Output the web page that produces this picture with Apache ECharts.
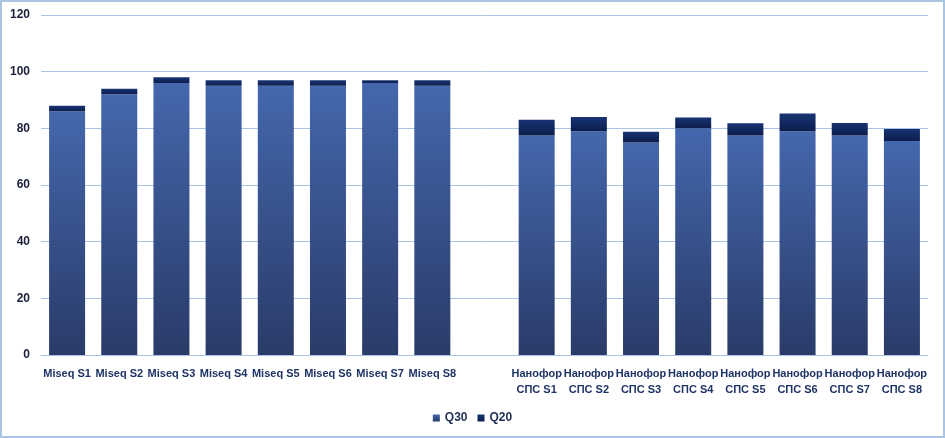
<!DOCTYPE html>
<html>
<head>
    <meta charset="utf-8">
    <title>Q30 / Q20</title>
    <script src="https://cdn.jsdelivr.net/npm/echarts@6/dist/echarts.min.js"></script>
    <style>
        html, body { margin: 0; padding: 0; background: #fff; }
        #charts { width: 945px; height: 438px; box-sizing: border-box; border: 2px solid #a9c4e2; }
    </style>
</head>
<body>
<div id="charts"></div>
<script>
    // 类目（中间空一格）
    var categories = [
        'Miseq S1', 'Miseq S2', 'Miseq S3', 'Miseq S4', 'Miseq S5', 'Miseq S6', 'Miseq S7', 'Miseq S8',
        '',
        'Нанофор\nСПС S1', 'Нанофор\nСПС S2', 'Нанофор\nСПС S3', 'Нанофор\nСПС S4',
        'Нанофор\nСПС S5', 'Нанофор\nСПС S6', 'Нанофор\nСПС S7', 'Нанофор\nСПС S8'
    ];
    var q30 = [86, 92, 96, 95, 95, 95, 96, 95, '-', 77.5, 79, 75, 80, 77.5, 79, 77.5, 75.5];
    var q20 = [2, 2, 2, 2, 2, 2, 1, 2, '-', 5.5, 5, 3.8, 3.8, 4.3, 6.2, 4.4, 4.3];
    var yTicks = [0, 20, 40, 60, 80, 100, 120];

    var myChart = echarts.init(document.getElementById('charts'));

    var option = {
        animation: false,
        grid: { left: 39, right: 15, top: 13, bottom: 81 },
        legend: {
            bottom: 7,
            left: 'center',
            itemWidth: 7,
            itemHeight: 7,
            itemGap: 10,
            icon: 'rect',
            textStyle: { color: '#1f2d55', fontSize: 12, fontWeight: 'bold', fontFamily: 'Liberation Sans' },
            data: ['Q30', 'Q20']
        },
        xAxis: {
            type: 'category',
            data: categories,
            axisLine: { lineStyle: { color: '#a9c4e2' } },
            axisTick: { show: false },
            axisLabel: {
                interval: 0,
                color: '#1f3466',
                fontSize: 11,
                fontWeight: 'bold',
                fontFamily: 'Liberation Sans',
                lineHeight: 16,
                margin: 11
            }
        },
        yAxis: {
            type: 'value',
            min: yTicks[0],
            max: yTicks[yTicks.length - 1],
            interval: 20,
            axisLine: { show: false },
            axisTick: { show: false },
            splitLine: { lineStyle: { color: '#a9c4e2' } },
            axisLabel: {
                color: '#1a1f3c',
                fontSize: 12,
                fontWeight: 'bold',
                fontFamily: 'Liberation Sans',
                margin: 11
            }
        },
        series: [
            {
                name: 'Q30',
                type: 'bar',
                stack: 'q',
                barWidth: 36,
                itemStyle: {
                    color: new echarts.graphic.LinearGradient(0, 0, 0, 1, [
                        { offset: 0, color: '#4467ad' },
                        { offset: 1, color: '#2a3b68' }
                    ])
                },
                data: q30
            },
            {
                name: 'Q20',
                type: 'bar',
                stack: 'q',
                barWidth: 36,
                itemStyle: {
                    color: new echarts.graphic.LinearGradient(0, 0, 0, 1, [
                        { offset: 0, color: '#173473' },
                        { offset: 1, color: '#0c1d4d' }
                    ])
                },
                data: q20
            }
        ]
    };
    myChart.setOption(option);
</script>
</body>
</html>
